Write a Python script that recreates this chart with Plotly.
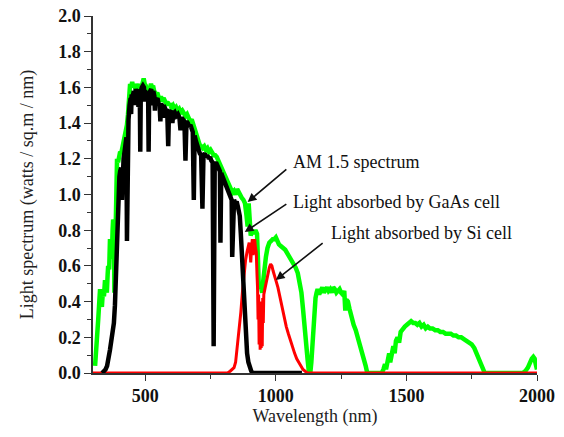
import plotly.graph_objects as go

# ---- AM 1.5 spectrum (green) ----
am15_wl = [308, 314, 320, 327, 331, 334, 338, 342, 346, 350, 353, 356, 358, 362, 365, 369, 372, 375, 377, 380,
           382, 384, 386, 389, 392, 396, 400, 404, 408, 412, 417, 422, 426, 430, 434, 438, 442, 446, 450, 454,
           458, 462, 466, 470, 474, 478, 482, 486, 490, 494, 498, 502, 506, 510, 514, 518, 522, 526, 530, 534,
           538, 542, 546, 550, 555, 560, 565, 570, 575, 580, 585, 590, 595, 600, 606, 612, 618, 624, 630, 636,
           642, 648, 654, 660, 666, 672, 678, 684, 690, 696, 702, 708, 714, 720, 726, 732, 738, 744, 750, 756,
           762, 768, 774, 780, 786, 792, 798, 804, 810, 816, 822, 828, 834, 840, 846, 852, 858, 864, 870, 876,
           882, 888, 892, 896, 900, 904, 910, 916, 922, 928, 932, 935, 940, 944, 948, 952, 956, 962, 968, 975,
           982, 988, 994, 1000, 1006, 1012, 1020, 1028, 1036, 1044, 1052, 1060, 1068, 1076, 1084, 1092, 1098, 1104, 1110, 1116,
           1122, 1127, 1132, 1136, 1140, 1144, 1148, 1152, 1156, 1160, 1166, 1172, 1178, 1184, 1190, 1196, 1202, 1208, 1214, 1220,
           1226, 1232, 1238, 1244, 1250, 1256, 1262, 1266, 1270, 1276, 1282, 1290, 1298, 1306, 1314, 1322, 1330, 1338, 1344, 1350,
           1405, 1412, 1418, 1422, 1428, 1434, 1438, 1444, 1450, 1455, 1460, 1466, 1472, 1478, 1486, 1494, 1502, 1510, 1518, 1526,
           1534, 1542, 1550, 1558, 1566, 1574, 1582, 1590, 1600, 1610, 1620, 1630, 1640, 1650, 1660, 1670, 1680, 1690, 1700, 1710,
           1720, 1730, 1740, 1750, 1760, 1768, 1776, 1784, 1792, 1800, 1945, 1955, 1965, 1972, 1980, 1986, 1991, 1995, 2000]
am15_val = [0.04, 0.15, 0.30, 0.47, 0.40, 0.37, 0.46, 0.43, 0.52, 0.47, 0.45, 0.55, 0.60, 0.58, 0.75, 0.68, 0.64, 0.80, 0.86, 0.84,
            0.45, 0.60, 0.85, 0.88, 1.20, 1.18, 1.22, 1.24, 1.23, 1.26, 1.27, 1.31, 1.36, 1.39, 1.45, 1.55, 1.62, 1.60, 1.63, 1.60,
            1.62, 1.59, 1.62, 1.60, 1.61, 1.58, 1.62, 1.60, 1.64, 1.65, 1.62, 1.61, 1.58, 1.60, 1.57, 1.60, 1.62, 1.60, 1.61, 1.58,
            1.57, 1.56, 1.57, 1.55, 1.53, 1.55, 1.52, 1.54, 1.53, 1.51, 1.52, 1.50, 1.51, 1.49, 1.50, 1.48, 1.49, 1.47, 1.48, 1.46,
            1.47, 1.45, 1.44, 1.45, 1.43, 1.41, 1.42, 1.39, 1.36, 1.33, 1.30, 1.28, 1.27, 1.26, 1.27, 1.25, 1.26, 1.24, 1.25, 1.23,
            1.22, 1.22, 1.21, 1.19, 1.17, 1.15, 1.13, 1.11, 1.09, 1.07, 1.05, 1.03, 1.01, 1.02, 1.00, 1.03, 1.01, 1.00, 0.98, 0.97,
            0.95, 0.88, 0.82, 0.95, 0.85, 0.77, 0.80, 0.78, 0.80, 0.78, 0.62, 0.47, 0.50, 0.46, 0.45, 0.52, 0.60, 0.65, 0.70, 0.73,
            0.74, 0.75, 0.75, 0.76, 0.74, 0.72, 0.71, 0.70, 0.69, 0.67, 0.65, 0.64, 0.62, 0.59, 0.56, 0.50, 0.45, 0.36, 0.24, 0.15,
            0.07, 0.00, 0.00, 0.06, 0.18, 0.28, 0.36, 0.42, 0.45, 0.47, 0.44, 0.46, 0.48, 0.45, 0.47, 0.48, 0.46, 0.47, 0.45, 0.48,
            0.47, 0.45, 0.46, 0.47, 0.45, 0.44, 0.46, 0.35, 0.41, 0.40, 0.36, 0.31, 0.27, 0.24, 0.20, 0.17, 0.13, 0.08, 0.04, 0.00,
            0.00, 0.02, 0.05, 0.02, 0.08, 0.11, 0.06, 0.13, 0.15, 0.11, 0.18, 0.20, 0.17, 0.23, 0.25, 0.26, 0.27, 0.28, 0.29, 0.28,
            0.28, 0.27, 0.28, 0.26, 0.27, 0.25, 0.26, 0.25, 0.25, 0.24, 0.24, 0.23, 0.23, 0.22, 0.22, 0.22, 0.21, 0.21, 0.20, 0.20,
            0.19, 0.18, 0.17, 0.16, 0.14, 0.11, 0.08, 0.05, 0.02, 0.00, 0.00, 0.01, 0.03, 0.06, 0.08, 0.09, 0.08, 0.05, 0.02]

# ---- Light absorbed by GaAs cell (black) ----
gaas_wl = [335, 342, 348, 354, 360, 365, 370, 375, 380, 384, 388, 392, 395, 398, 401, 404, 408, 411, 413, 417,
           421, 425, 428, 430, 432, 436, 440, 444, 446, 448, 452, 456, 458, 460, 464, 468, 472, 474, 476, 479,
           481, 483, 487, 491, 495, 497, 499, 503, 507, 511, 513, 515, 519, 523, 525, 527, 531, 535, 537, 539,
           543, 547, 551, 555, 558, 561, 565, 568, 570, 575, 580, 584, 588, 591, 596, 601, 604, 607, 613, 619,
           625, 631, 635, 639, 645, 650, 654, 658, 663, 668, 673, 678, 682, 686, 689, 694, 699, 704, 709, 714,
           719, 723, 728, 733, 738, 743, 748, 753, 758, 762, 766, 771, 776, 781, 786, 788, 791, 796, 801, 806,
           811, 816, 822, 827, 831, 833, 836, 840, 845, 850, 855, 859, 862, 866, 870, 874, 878, 882, 886, 890,
           895, 900, 906, 912, 1100]
gaas_val = [0.00, 0.01, 0.02, 0.04, 0.08, 0.13, 0.18, 0.22, 0.28, 0.38, 0.55, 0.75, 0.95, 1.03, 1.10, 1.13, 1.15, 0.97, 1.16, 1.20,
            1.24, 1.28, 1.32, 0.74, 1.36, 1.42, 1.50, 1.54, 1.45, 1.56, 1.55, 1.58, 1.50, 1.56, 1.59, 1.57, 1.58, 1.49, 1.56, 1.59,
            1.24, 1.58, 1.60, 1.61, 1.60, 1.52, 1.58, 1.57, 1.55, 1.56, 1.24, 1.55, 1.58, 1.59, 1.50, 1.57, 1.58, 1.55, 1.47, 1.54,
            1.53, 1.54, 1.51, 1.50, 1.41, 1.51, 1.49, 1.43, 1.50, 1.49, 1.47, 1.48, 1.27, 1.47, 1.46, 1.47, 1.40, 1.45, 1.46, 1.44,
            1.45, 1.43, 1.36, 1.43, 1.42, 1.41, 1.19, 1.41, 1.40, 1.38, 1.39, 1.37, 1.35, 0.97, 1.33, 1.30, 1.27, 1.25, 1.23, 1.22,
            0.92, 1.22, 1.23, 1.21, 1.22, 1.20, 1.21, 1.19, 1.18, 0.15, 1.17, 1.18, 1.16, 1.15, 1.13, 0.73, 1.12, 1.10, 1.08, 1.06,
            1.04, 1.02, 1.00, 0.98, 0.97, 0.65, 0.96, 0.97, 0.95, 0.96, 0.93, 0.91, 0.88, 0.78, 0.65, 0.52, 0.40, 0.28, 0.18, 0.11,
            0.06, 0.03, 0.01, 0.00, 0.00]

# ---- Light absorbed by Si cell (red) ----
si_wl = [300, 815, 825, 835, 840, 846, 853, 860, 866, 872, 878, 884, 890, 895, 898, 901, 904, 907, 910, 913,
         916, 919, 922, 925, 928, 930, 932, 934, 936, 938, 940, 942, 944, 946, 948, 950, 952, 954, 958, 962,
         966, 970, 975, 980, 985, 990, 995, 1000, 1008, 1016, 1024, 1032, 1040, 1048, 1056, 1064, 1072, 1080, 1088, 1096,
         1104, 1112, 1120, 2000]
si_val = [0.00, 0.00, 0.01, 0.02, 0.03, 0.06, 0.15, 0.24, 0.34, 0.45, 0.55, 0.63, 0.68, 0.71, 0.73, 0.68, 0.62, 0.70, 0.75, 0.66,
          0.72, 0.75, 0.70, 0.68, 0.55, 0.48, 0.30, 0.44, 0.16, 0.38, 0.13, 0.40, 0.14, 0.36, 0.15, 0.42, 0.28, 0.44, 0.47, 0.50,
          0.53, 0.56, 0.59, 0.61, 0.60, 0.57, 0.55, 0.52, 0.48, 0.42, 0.36, 0.31, 0.26, 0.22, 0.18, 0.14, 0.11, 0.08, 0.06, 0.04,
          0.02, 0.01, 0.00, 0.00]

# ---- axis ticks ----
x_major = [500, 1000, 1500, 2000]
x_minor = [750, 1250, 1750]

# ---- annotations: (label, text x, text y, arrow head x, head y, tail x, tail y) ----
labels = ["AM 1.5 spectrum", "Light absorbed by GaAs cell", "Light absorbed by Si cell"]
label_x = [1058, 1058, 1204]
label_y = [1.182, 0.958, 0.784]
head_x = [892, 881, 1000]
head_y = [0.958, 0.790, 0.521]
tail_x = [1046, 1046, 1185]
tail_y = [1.148, 0.952, 0.734]

SERIF = "Liberation Serif, Times New Roman, serif"

fig = go.Figure()
fig.add_trace(go.Scatter(x=am15_wl, y=am15_val, mode="lines",
                         line=dict(color="#00ff00", width=4.5), name="AM 1.5"))
fig.add_trace(go.Scatter(x=si_wl, y=si_val, mode="lines",
                         line=dict(color="#ff0000", width=3), name="Si"))
fig.add_trace(go.Scatter(x=gaas_wl, y=gaas_val, mode="lines",
                         line=dict(color="#000000", width=4.5), name="GaAs"))

for i in range(len(labels)):
    fig.add_annotation(x=head_x[i], y=head_y[i], ax=tail_x[i], ay=tail_y[i],
                       xref="x", yref="y", axref="x", ayref="y",
                       text="", showarrow=True, arrowhead=2, arrowsize=1.1,
                       arrowwidth=1.6, arrowcolor="#111111", standoff=0)
    fig.add_annotation(x=label_x[i], y=label_y[i], xref="x", yref="y",
                       text=labels[i], showarrow=False, xanchor="left", yanchor="middle",
                       font=dict(family=SERIF, size=18, color="#111111"))

fig.update_layout(
    width=564, height=437,
    margin=dict(l=93, r=27, t=16, b=64, autoexpand=False),
    paper_bgcolor="white", plot_bgcolor="white",
    showlegend=False,
)
fig.update_xaxes(
    range=[300, 2000], tickvals=x_major, ticktext=[str(v) for v in x_major],
    ticks="outside", ticklen=6, tickwidth=1.3, tickcolor="#333333",
    minor=dict(tickvals=x_minor, ticks="outside", ticklen=4, tickwidth=1.3, tickcolor="#333333"),
    showline=True, linecolor="#333333", linewidth=1.5, showgrid=False, zeroline=False,
    tickfont=dict(family=SERIF, size=18, color="#111111", weight="bold"),
    title=dict(text="Wavelength (nm)", font=dict(family=SERIF, size=18, color="#222222"), standoff=4),
    layer="below traces", automargin=False,
)
fig.update_yaxes(
    range=[0, 2.0], tick0=0, dtick=0.2, tickformat=".1f",
    ticks="outside", ticklen=7, tickwidth=1.3, tickcolor="#333333",
    minor=dict(dtick=0.1, ticks="outside", ticklen=4, tickwidth=1.3, tickcolor="#333333"),
    showline=True, linecolor="#333333", linewidth=1.5, showgrid=False, zeroline=False,
    tickfont=dict(family=SERIF, size=18, color="#111111", weight="bold"),
    title=dict(text="Light spectrum (watts / sq.m / nm)", font=dict(family=SERIF, size=18, color="#222222"), standoff=20),
    layer="below traces", automargin=False,
)

fig.write_html("out.html")
